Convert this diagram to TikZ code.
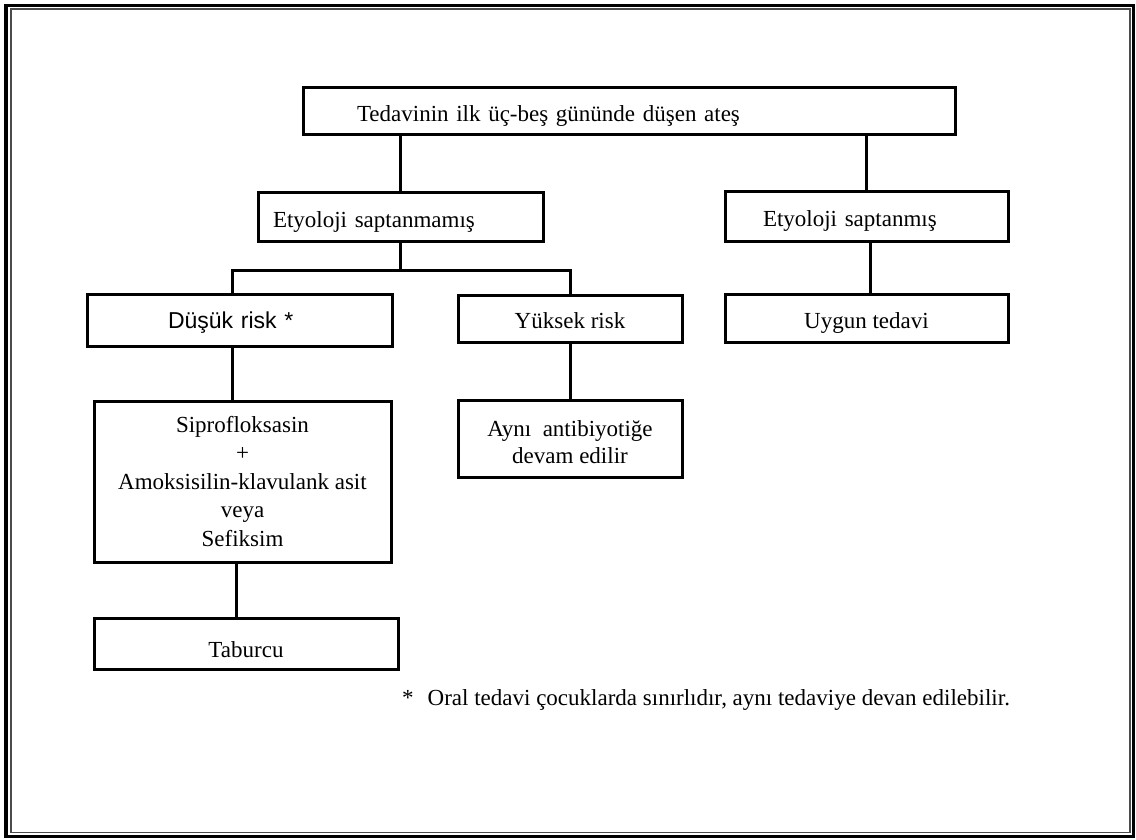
\documentclass[tikz,border=0pt]{standalone}
\usepackage{fontspec}
\setmainfont{Liberation Serif}
\newfontfamily\arialfont{Liberation Sans}
\usepackage{tikz}

\begin{document}
\begin{tikzpicture}[
    x=1pt, y=-1pt,
    kutu/.style={draw, line width=3pt, inner sep=0pt, align=center,
      font=\fontsize{23}{28}\selectfont},
    tek/.style={text height=22pt, text depth=2pt},
    cizgi/.style={line width=3pt},
  ]
  \useasboundingbox (0,0) rectangle (1136,840);
  \draw[line width=3.5pt] (6,5.5) rectangle (1133.5,836.5);
  \draw[line width=1.5pt, black!70] (11,9) rectangle (1130,832.5);

  \node[kutu, tek, minimum width=652pt, minimum height=47pt, text width=544pt, align=left] (ates) at (629,111.5) {Tedavinin ilk üç-beş gününde düşen ateş};
  \node[kutu, tek, minimum width=285pt, minimum height=48pt, text width=255pt, align=left] (saptanmamis) at (400.5,217) {Etyoloji saptanmamış};
  \node[kutu, tek, minimum width=283pt, minimum height=49pt, text width=207pt, align=left] (saptanmis) at (866.5,216.5) {Etyoloji saptanmış};
  \node[kutu, text height=20pt, text depth=4pt, minimum width=305pt, minimum height=52pt, text width=143pt, align=left, font=\arialfont\fontsize{23}{28}\selectfont] (dusuk) at (239.5,320) {Düşük risk *};
  \node[kutu, tek, minimum width=224pt, minimum height=47pt] (yuksek) at (570,318.5) {Yüksek risk};
  \node[kutu, tek, minimum width=283pt, minimum height=48pt] (uygun) at (866.5,318) {Uygun tedavi};
  \node[kutu, minimum width=297pt, minimum height=161pt, font=\fontsize{23}{28.5}\selectfont] (ilac) at (242.5,481.5) {Siprofloksasin\\+\\Amoksisilin-klavulank asit\\veya\\Sefiksim};
  \node[kutu, text height=52pt, text depth=3pt, minimum width=224pt, minimum height=77pt, font=\fontsize{23}{27}\selectfont] (ayni) at (570,438.5) {Aynı\ \ antibiyotiğe\\devam edilir};
  \node[kutu, text height=28pt, text depth=1pt, minimum width=304pt, minimum height=51pt] (taburcu) at (246,643.5) {Taburcu};
  \node[anchor=base west, inner sep=0pt, font=\fontsize{23}{28}\selectfont] (dipnot) at (402,705) {*\hspace{14pt}Oral tedavi çocuklarda sınırlıdır, aynı tedaviye devan edilebilir.};

  \coordinate (ayrim) at (400.5,270);
  \draw[cizgi] (saptanmamis.north) -- (saptanmamis.north |- ates.south);
  \draw[cizgi] (saptanmis.north) -- (saptanmis.north |- ates.south);
  \draw[cizgi] (saptanmamis.south) -- (ayrim);
  \draw[cizgi] ([xshift=-7pt]dusuk.north) |- (ayrim) -| (yuksek.north);
  \draw[cizgi] ([xshift=-7pt]dusuk.south) -- ([xshift=-7pt]dusuk.south |- ilac.north);
  \draw[cizgi] ([xshift=-6pt]ilac.south) -- ([xshift=-6pt]ilac.south |- taburcu.north);
  \draw[cizgi] (yuksek) -- (ayni);
  \draw[cizgi] ([xshift=4pt]saptanmis.south) -- ([xshift=4pt]saptanmis.south |- uygun.north);
\end{tikzpicture}
\end{document}
